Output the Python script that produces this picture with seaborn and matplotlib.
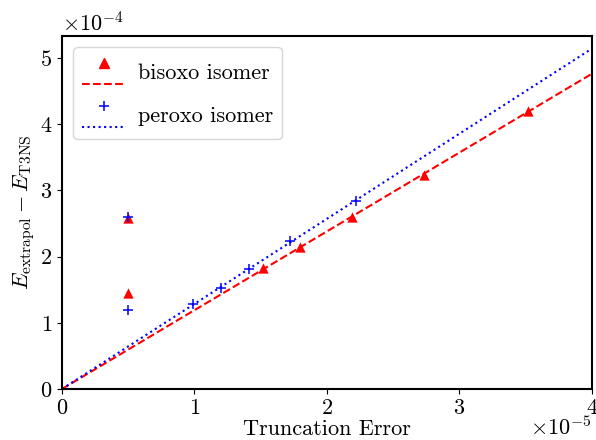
import numpy as np
import pandas as pd
import matplotlib
matplotlib.use("Agg")
import matplotlib.pyplot as plt
import seaborn as sns
from matplotlib.lines import Line2D
from matplotlib.legend_handler import HandlerBase

# data
bisoxo_x = [0.5e-5, 0.5e-5, 1.52e-5, 1.80e-5, 2.19e-5, 2.73e-5, 3.52e-5]
bisoxo_y = [2.58e-4, 1.45e-4, 1.82e-4, 2.14e-4, 2.60e-4, 3.23e-4, 4.20e-4]
peroxo_x = [0.5e-5, 0.5e-5, 0.99e-5, 1.20e-5, 1.41e-5, 1.72e-5, 2.22e-5]
peroxo_y = [2.60e-4, 1.20e-4, 1.29e-4, 1.52e-4, 1.81e-4, 2.23e-4, 2.84e-4]
fit_x = [0.0, 4e-5]
bisoxo_slope = 11.9
peroxo_slope = 12.85

plt.rcParams['font.family'] = 'serif'
plt.rcParams['font.serif'] = ['cmr10']
plt.rcParams['mathtext.fontset'] = 'cm'
plt.rcParams['axes.formatter.use_mathtext'] = True
plt.rcParams['axes.linewidth'] = 1.5
plt.rcParams['font.size'] = 16


class StackedHandler(HandlerBase):
    # marker on top, line below, like the original legend
    def create_artists(self, legend, orig_handle, xdescent, ydescent,
                       width, height, fontsize, trans):
        mk, ln = orig_handle
        c = (height - ydescent) / 2.0
        m = Line2D([width / 2], [c + 0.2 * fontsize], marker=mk.get_marker(),
                   color=mk.get_color(), markersize=mk.get_markersize(),
                   linestyle='none', markeredgewidth=mk.get_markeredgewidth())
        l = Line2D([0, width], [c - 0.75 * fontsize] * 2,
                   color=ln.get_color(), linestyle=ln.get_linestyle(),
                   linewidth=ln.get_linewidth())
        m.set_transform(trans)
        l.set_transform(trans)
        return [m, l]


fig = plt.figure(figsize=(5.96, 4.40), dpi=100)
ax = fig.add_axes([0.104, 0.116, 0.889, 0.802])

fit_x = np.array(fit_x)
sns.lineplot(x=fit_x, y=bisoxo_slope * fit_x, ax=ax, color='red',
             linestyle='--', linewidth=1.5, legend=False)
sns.lineplot(x=fit_x, y=peroxo_slope * fit_x, ax=ax, color='blue',
             linestyle=':', linewidth=1.5, legend=False)
sns.scatterplot(x=bisoxo_x, y=bisoxo_y, ax=ax, marker='^', color='red',
                s=55, linewidth=0, legend=False, zorder=3)
sns.scatterplot(x=peroxo_x, y=peroxo_y, ax=ax, marker='+', color='blue',
                s=50, linewidth=1.1, legend=False, zorder=4)

ax.set_xlim(0, 4e-5)
ax.set_ylim(0, 5.33e-4)
ax.set_xticks([0, 1e-5, 2e-5, 3e-5, 4e-5])
ax.set_yticks([0, 1e-4, 2e-4, 3e-4, 4e-4, 5e-4])
ax.ticklabel_format(style='sci', axis='both', scilimits=(0, 0))
# x offset text drawn by hand so it sits a little higher, as in the original
ax.xaxis.get_offset_text().set_visible(False)
ax.text(1.0, -0.076, r'$\times10^{-5}$', transform=ax.transAxes,
        ha='right', va='top')
ax.set_xlabel('Truncation Error', labelpad=1)
ax.set_ylabel(r'$E_{\rm extrapol} - E_{\rm T3NS}$', labelpad=2)

h1 = (Line2D([], [], marker='^', color='red', markersize=7, linestyle='none'),
      Line2D([], [], color='red', linestyle='--', linewidth=1.5))
h2 = (Line2D([], [], marker='+', color='blue', markersize=7, linestyle='none',
             markeredgewidth=1.1),
      Line2D([], [], color='blue', linestyle=':', linewidth=1.5))
ax.legend([h1, h2], ['bisoxo isomer', 'peroxo isomer'],
          handler_map={tuple: StackedHandler()}, loc='upper left',
          handleheight=1.8, handlelength=2.0, labelspacing=0.5,
          handletextpad=0.5)

fig.savefig('out.png', dpi=100)
